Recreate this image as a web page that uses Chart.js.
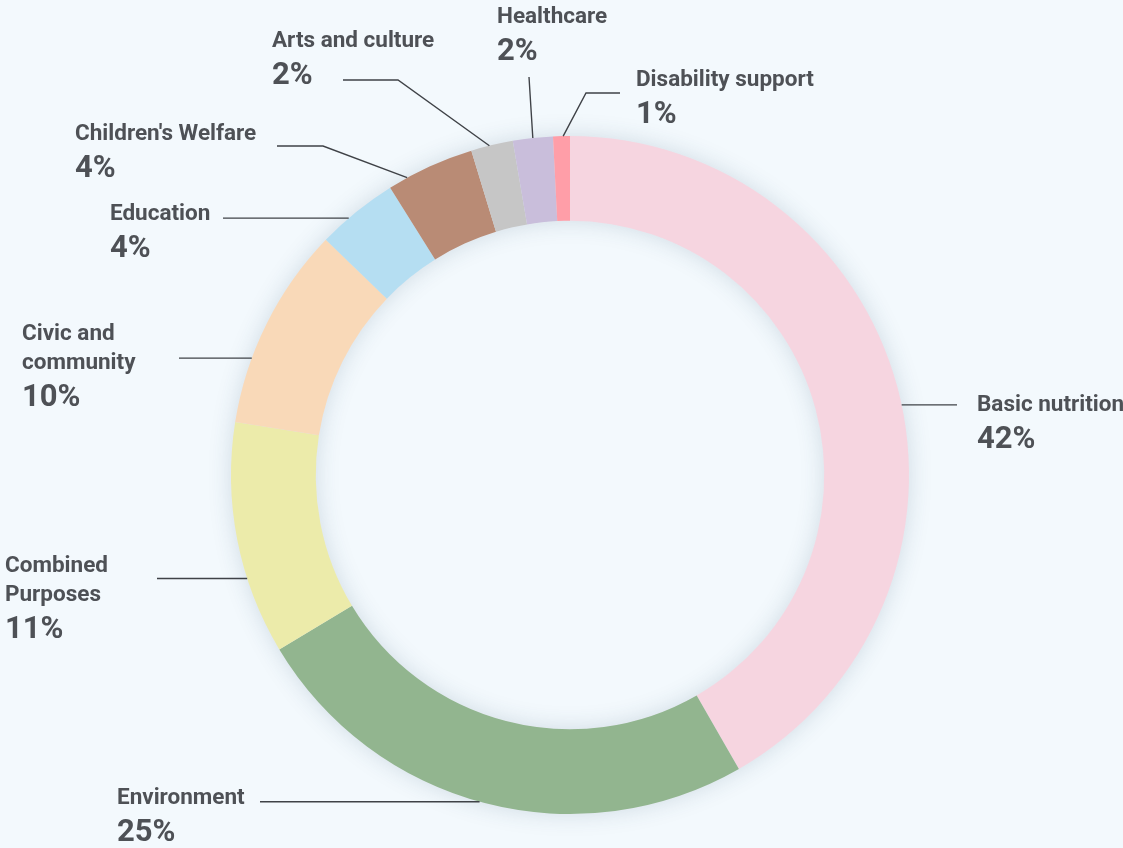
<!DOCTYPE html>
<html><head><meta charset="utf-8">
<script src="https://cdn.jsdelivr.net/npm/chart.js@4.4.0/dist/chart.umd.min.js"></script>
<style>html,body{margin:0;padding:0;background:#f3f9fd;overflow:hidden}#wrap{width:1123px;height:848px;position:relative}</style>
</head><body><div id="wrap"><canvas id="c"></canvas></div>
<script>
const categories = ["Basic nutrition","Environment","Combined Purposes","Civic and community","Education","Children's Welfare","Arts and culture","Healthcare","Disability support"];
const nameLines = [["Basic nutrition"],["Environment"],["Combined","Purposes"],["Civic and","community"],["Education"],["Children's Welfare"],["Arts and culture"],["Healthcare"],["Disability support"]];
const values = [41.7,24.7,11.1,9.7,3.9,4.2,2.0,1.9,0.8];
const pctLabels = ["42%","25%","11%","10%","4%","4%","2%","2%","1%"];
const colors = ["#f6d5e0","#92b58f","#ecebaa","#f9d9b8","#b5def2","#b98b75","#c6c6c6","#c9bedb","#ff9ea8"];

// label layout (positions only)
const labelLayout = [
  {t:.52, end:957, tx:977, by:411},
  {t:.51, end:260, tx:117, by:804},
  {t:.33, end:157, tx:5, by:572},
  {t:.32, end:179, tx:22, by:340},
  {t:.38, end:223, tx:110, by:220},
  {t:.22, elbow:[323,146], end:277, tx:75, by:140},
  {t:.44, elbow:[398,80], end:343, tx:272, by:47},
  {t:.50, elbow:[529,77], end:null, tx:497, by:23},
  {t:.60, elbow:[586,93], end:620, tx:636, by:86}
];
const TEXT = "#4e5156";
const FONT = "Roboto, 'DejaVu Sans', sans-serif";

const shadowPlugin = {
  id:'ringShadow',
  beforeDatasetsDraw(chart){
    const a = chart.getDatasetMeta(0).data[0];
    if(!a) return;
    const {x,y,outerRadius,innerRadius} = a.getProps(['x','y','outerRadius','innerRadius'],true);
    const ctx = chart.ctx;
    ctx.save();
    ctx.shadowColor='rgba(40,70,100,0.18)';
    ctx.shadowBlur=24;
    ctx.beginPath();
    ctx.arc(x,y,outerRadius-1,0,Math.PI*2,false);
    ctx.arc(x,y,innerRadius+1,0,Math.PI*2,true);
    ctx.closePath();
    ctx.fillStyle='#dde6ee';
    ctx.fill();
    ctx.restore();
  }
};

const labelPlugin = {
  id:'sliceLabels',
  afterDatasetsDraw(chart){
    const ctx = chart.ctx;
    const arcs = chart.getDatasetMeta(0).data;
    arcs.forEach((arc,i)=>{
      const L = labelLayout[i];
      const p = arc.getProps(['x','y','startAngle','endAngle','outerRadius'],true);
      const ang = p.startAngle + L.t*(p.endAngle-p.startAngle);
      const ax = p.x + Math.cos(ang)*p.outerRadius;
      const ay = p.y + Math.sin(ang)*p.outerRadius;
      ctx.save();
      ctx.strokeStyle='#3f4247';
      ctx.lineWidth=1.4;
      ctx.beginPath();
      ctx.moveTo(ax,ay);
      if(L.elbow){
        ctx.lineTo(L.elbow[0],L.elbow[1]);
        if(L.end!==null) ctx.lineTo(L.end,L.elbow[1]);
      } else {
        ctx.lineTo(L.end,ay);
      }
      ctx.stroke();
      ctx.fillStyle=TEXT;
      ctx.textBaseline='alphabetic';
      ctx.textAlign='left';
      ctx.font='bold 22.5px '+FONT;
      let y = L.by;
      nameLines[i].forEach((ln,k)=>{
        ctx.fillText(ln,L.tx,y);
        if(k<nameLines[i].length-1) y+=29;
      });
      ctx.font='bold 31px '+FONT;
      ctx.fillText(pctLabels[i],L.tx,y+37);
      ctx.restore();
    });
  }
};

new Chart(document.getElementById('c'),{
  type:'doughnut',
  data:{labels:categories,datasets:[{data:values,backgroundColor:colors,borderWidth:0,hoverOffset:0}]},
  options:{
    responsive:true,maintainAspectRatio:false,animation:false,
    cutout:'75%',
    layout:{padding:{top:136,bottom:34,left:231,right:214}},
    plugins:{legend:{display:false},tooltip:{enabled:false}},
    events:[]
  },
  plugins:[shadowPlugin,labelPlugin]
});
</script></body></html>
